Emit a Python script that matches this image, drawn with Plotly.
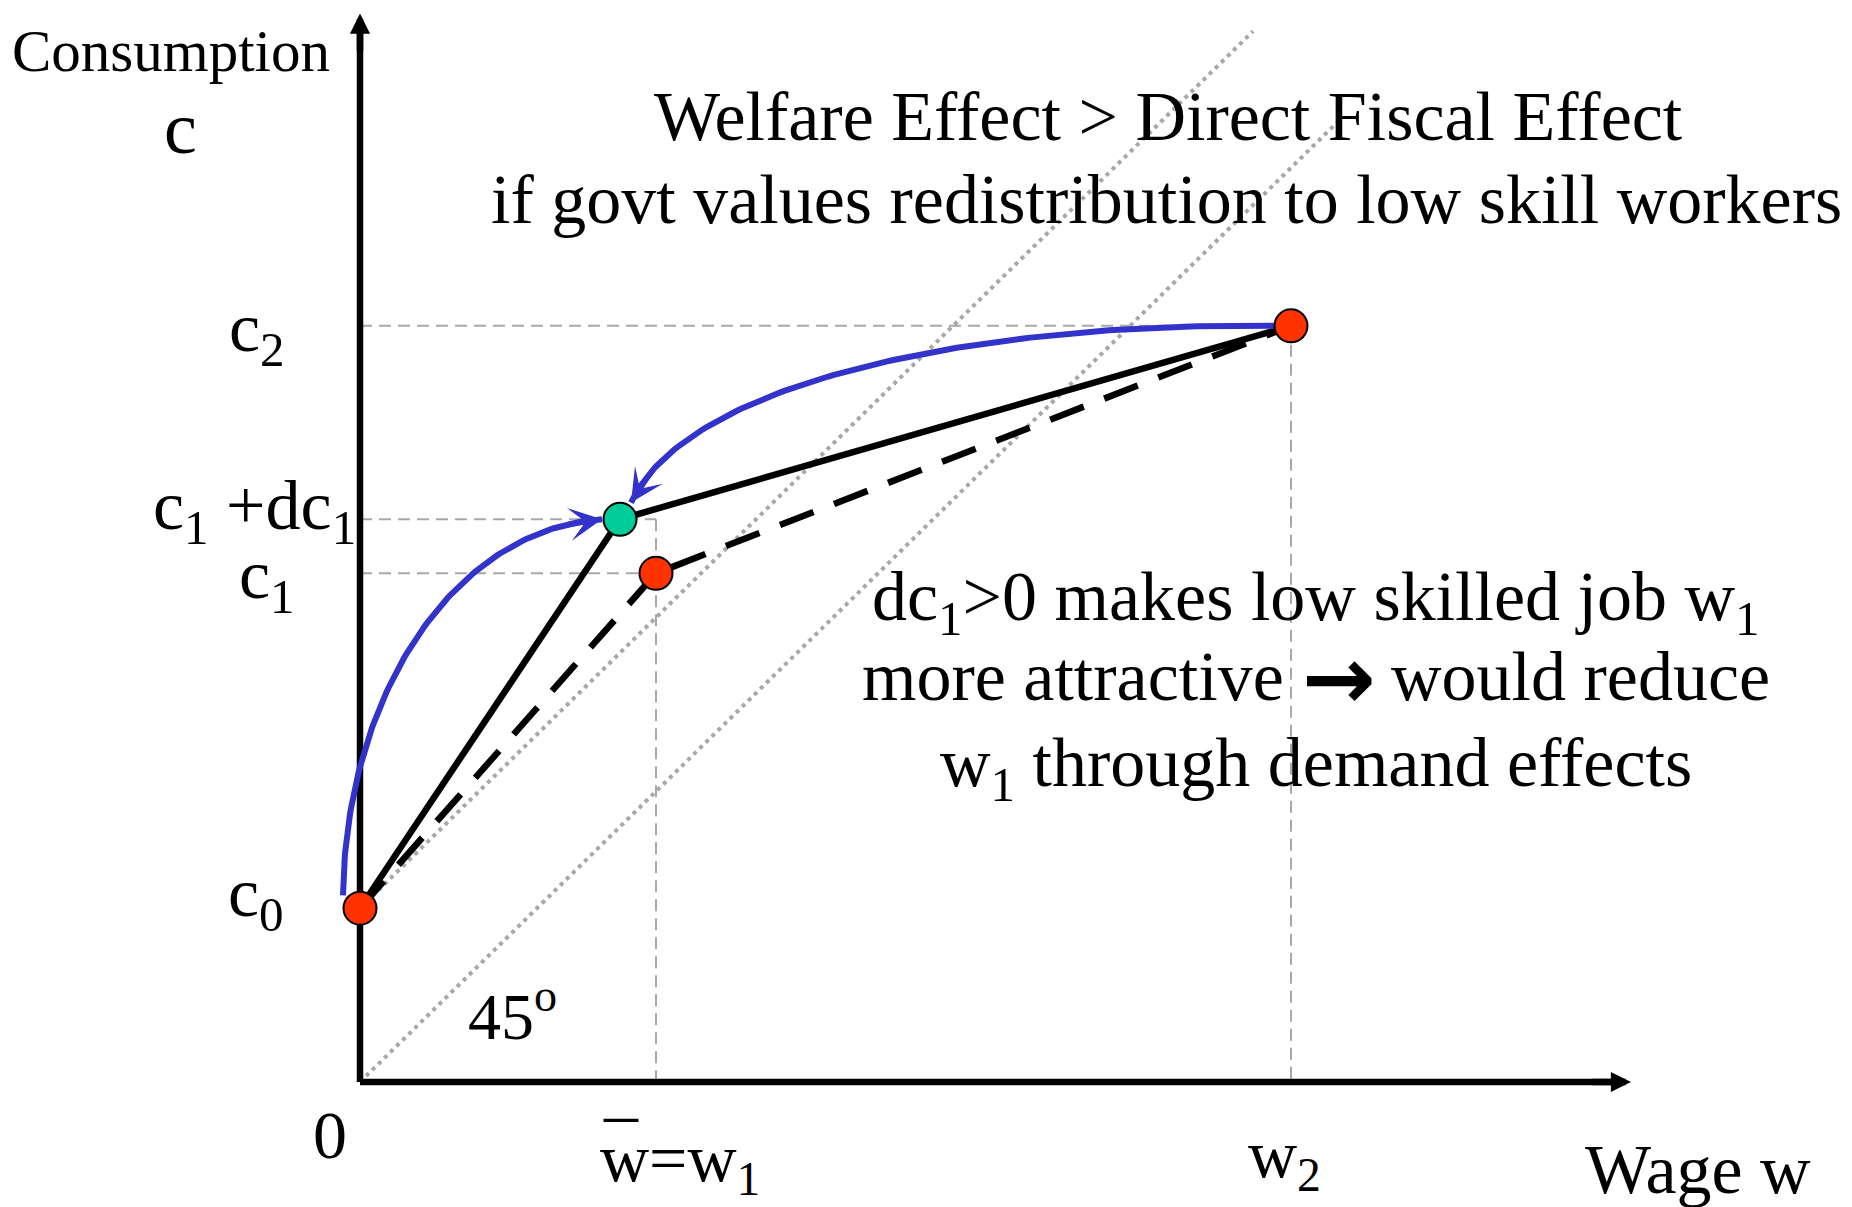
import numpy as np
import plotly.graph_objects as go

# ---------------- data ----------------
point_labels = ["c0", "c1+dc1", "c1", "c2"]
point_w = [0.0, 2.60, 2.96, 9.31]          # wage w
point_c = [1.77, 5.73, 5.18, 7.70]         # consumption c
point_colors = ["#ff3300", "#00cc99", "#ff3300", "#ff3300"]

w_new, w1, w2 = 2.60, 2.96, 9.31
c0, c1, c1_dc1, c2 = 1.77, 5.18, 5.73, 7.70

solid_w = [0.0, w_new, w2]     # schedule after dc1
solid_c = [c0, c1_dc1, c2]
dash_w = [0.0, w1, w2]         # original schedule
dash_c = [c0, c1, c2]

line45_from_c0_end = 8.93      # 45-degree line starting at c0
line45_from_0_end = 9.77       # 45-degree line starting at origin
x_axis_end = 12.71
y_axis_end = 10.88

# ---------------- figure geometry ----------------
W, H = 1852, 1207
X0, PXW = 360, 100.0
Y0, PXC = 1082, 98.2
xr = [-X0 / PXW, (W - X0) / PXW]
yr = [(Y0 - H) / PXC, Y0 / PXC]

FONT = "Liberation Serif, Times New Roman, serif"
GREY = "#a8a8a8"
BLUE = "#3333cc"

fig = go.Figure()

# 45-degree dotted lines
for x_end, y_start in [(line45_from_c0_end, c0), (line45_from_0_end, 0.0)]:
    fig.add_trace(go.Scatter(x=[0, x_end], y=[y_start, y_start + x_end], mode="lines",
                             line=dict(color=GREY, width=4, dash="4px,4.5px"), hoverinfo="skip"))

# dashed guide lines
guides = [
    ([0, w2], [c2, c2]),
    ([0, w1], [c1_dc1, c1_dc1]),
    ([0, w1], [c1, c1]),
    ([w1, w1], [c1_dc1, 0]),
    ([w2, w2], [c2, 0]),
]
for gx, gy in guides:
    fig.add_trace(go.Scatter(x=gx, y=gy, mode="lines",
                             line=dict(color=GREY, width=2, dash="12px,7px"), hoverinfo="skip"))

# axes lines
fig.add_trace(go.Scatter(x=[0, 0], y=[0, y_axis_end - 0.1], mode="lines",
                         line=dict(color="black", width=6.5), hoverinfo="skip"))
fig.add_trace(go.Scatter(x=[0, x_axis_end - 0.1], y=[0, 0], mode="lines",
                         line=dict(color="black", width=6.5), hoverinfo="skip"))

# budget schedules
fig.add_trace(go.Scatter(x=dash_w, y=dash_c, mode="lines",
                         line=dict(color="black", width=6.5, dash="36px,22px"), hoverinfo="skip"))
fig.add_trace(go.Scatter(x=solid_w, y=solid_c, mode="lines",
                         line=dict(color="black", width=6.5), hoverinfo="skip"))


def bezier(p0, p1, p2, p3, t):
    t = np.asarray(t)[:, None]
    return ((1 - t) ** 3) * p0 + 3 * ((1 - t) ** 2) * t * p1 + 3 * (1 - t) * t ** 2 * p2 + t ** 3 * p3


def curve(start, end, f1, f2):
    s, e = np.array(start), np.array(end)
    d = e - s
    return s, s + np.array(f1) * d, s + np.array(f2) * d, e


arrow_anns = []
curves = [
    curve((0.0 - 0.17, c0 + 0.13), (w_new - 0.18, c1_dc1), (0.008, 0.517), (0.413, 0.973)),
    curve((w2 - 0.17, c2), (w_new + 0.11, c1_dc1 + 0.17), (0.426, -0.022), (0.908, 0.277)),
]
for p0, p1, p2, p3 in curves:
    pts = bezier(p0, p1, p2, p3, np.linspace(0, 1, 120))
    fig.add_trace(go.Scatter(x=pts[:, 0], y=pts[:, 1], mode="lines",
                             line=dict(color=BLUE, width=6), hoverinfo="skip"))
    tail = bezier(p0, p1, p2, p3, [0.92])[0]
    arrow_anns.append(dict(x=p3[0], y=p3[1], ax=tail[0], ay=tail[1], xref="x", yref="y",
                           axref="x", ayref="y", showarrow=True, arrowhead=3, arrowsize=1.0,
                           arrowwidth=5.5, arrowcolor=BLUE, text=""))

# axis arrowheads
arrow_anns.append(dict(x=0, y=y_axis_end, ax=0, ay=y_axis_end - 0.4, xref="x", yref="y",
                       axref="x", ayref="y", showarrow=True, arrowhead=2, arrowsize=0.62,
                       arrowwidth=6.5, arrowcolor="black", text=""))
arrow_anns.append(dict(x=x_axis_end, y=0, ax=x_axis_end - 0.4, ay=0, xref="x", yref="y",
                       axref="x", ayref="y", showarrow=True, arrowhead=2, arrowsize=0.62,
                       arrowwidth=6.5, arrowcolor="black", text=""))

# points
fig.add_trace(go.Scatter(x=point_w, y=point_c, mode="markers", text=point_labels,
                         marker=dict(size=33, color=point_colors, line=dict(color="black", width=2)),
                         hoverinfo="text"))

# ---------------- text ----------------
text_anns = []


def label(text, x_px, base_px, size, xanchor="center", k=0.34, family=FONT):
    yc = base_px - k * size
    text_anns.append(dict(x=x_px / W, y=1 - yc / H, xref="paper", yref="paper", text=text,
                          showarrow=False, xanchor=xanchor, yanchor="middle",
                          font=dict(family=family, size=size, color="black")))


label("Consumption", 171, 71, 59)
label("c", 180, 153, 74)
label("c<sub>2</sub>", 287, 348, 70, "right", 0.22)
label("c<sub>1</sub> +dc<sub>1</sub>", 358, 526, 70, "right", 0.22)
label("c<sub>1</sub>", 297, 595, 70, "right", 0.22)
label("c<sub>0</sub>", 286, 913, 70, "right", 0.22)
label("0", 330, 1158, 68)
label("–", 621, 1136, 68)
label("w=w<sub>1</sub>", 680, 1177, 68, "center", 0.22)
label("w<sub>2</sub>", 1284, 1173, 68, "center", 0.22)
label("Wage w", 1698, 1193, 70)
label("45<sup>o</sup>", 466, 1038, 66, "left", 0.40)

label("Welfare Effect > Direct Fiscal Effect", 1168, 140, 70)
label("if govt values redistribution to low skill workers", 1166, 223, 70)

label("dc<sub>1</sub>>0 makes low skilled job w<sub>1</sub>", 1316, 617, 70, "center", 0.22)
label("more attractive", 1286, 700, 70, "right")
label("<b>→</b>", 1339, 709, 88, "center", 0.345, "DejaVu Sans")
label("would reduce", 1389, 700, 70, "left")
label("w<sub>1</sub> through demand effects", 1316, 783, 70, "center", 0.22)

fig.update_layout(
    width=W, height=H,
    margin=dict(l=0, r=0, t=0, b=0, pad=0),
    paper_bgcolor="white", plot_bgcolor="white",
    showlegend=False,
    xaxis=dict(range=xr, visible=False, fixedrange=True),
    yaxis=dict(range=yr, visible=False, fixedrange=True),
    annotations=arrow_anns + text_anns,
)

fig.write_html("out.html", config={"displayModeBar": False},
               post_script="document.body.style.margin='0px';document.body.style.overflow='hidden';")
